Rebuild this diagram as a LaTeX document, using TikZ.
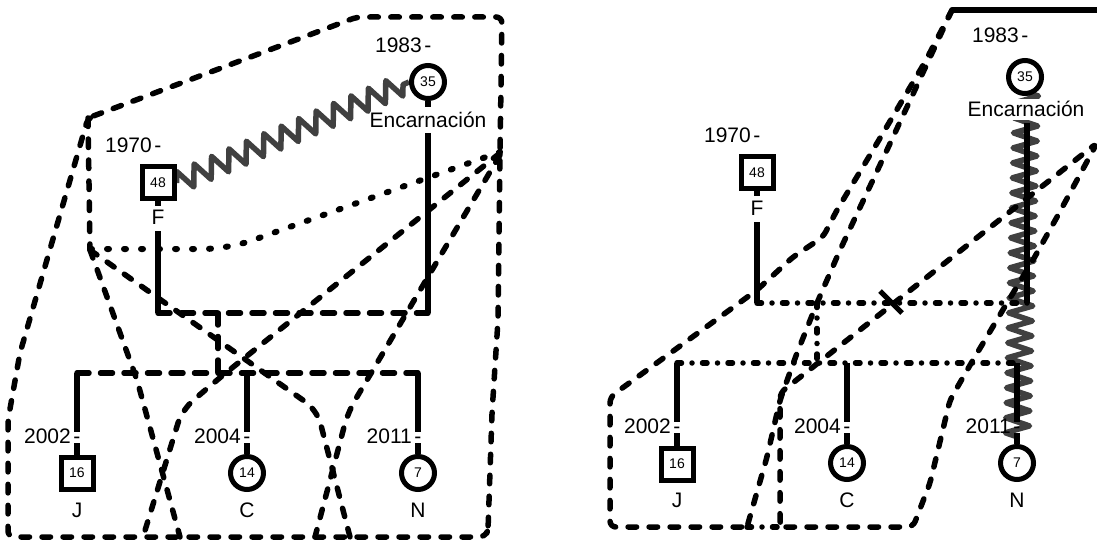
\documentclass[tikz,border=0pt]{standalone}
\usepackage{fontspec}
\setmainfont{Liberation Sans}
\usetikzlibrary{decorations.pathmorphing,calc}
\definecolor{zzgray}{RGB}{64,64,64}
\pgfdeclarelayer{zzlayer}
\pgfsetlayers{zzlayer,main}
\begin{document}
\begin{tikzpicture}[x=1pt,y=-1pt,
  every node/.style={font=\fontsize{21}{24}\selectfont},
  solidln/.style={line width=5.2pt},
  dshln/.style={line width=5.5pt, dash pattern=on 8.5pt off 12.5pt, line cap=round, line join=round},
  famdsh/.style={line width=5.5pt, dash pattern=on 12pt off 11.5pt, line cap=round},
  dotln/.style={line width=6pt, dash pattern=on 2pt off 15pt, line cap=round},
  ddln/.style={line width=5.5pt, dash pattern=on 4.5pt off 10.5pt on 0pt off 10.5pt, line cap=round},
  mbox/.style={draw, fill=white, line width=5pt, minimum size=32pt, inner sep=0pt, font=\fontsize{14}{16}\selectfont},
  fcirc/.style={draw, fill=white, circle, line width=5pt, minimum size=33pt, inner sep=0pt, font=\fontsize{14}{16}\selectfont},
  yr/.style={anchor=base east, inner sep=0pt},
  nm/.style={anchor=base, inner sep=0pt},
  zz/.style={draw=zzgray, line width=5.5pt, line join=round, decorate},
]
\useasboundingbox (0,0) rectangle (1097,540);

% ================= LEFT PANEL =================
% outline shapes
\draw[dshln, rounded corners=6pt] (88,118) -- (357,17) -- (502,17) -- (500,153) -- (498,320) -- (492,413) -- (488,530) -- (485,537) -- (8,537) -- (8,420) -- (20,353) -- (44,270) -- cycle;
\draw[dshln] (88,118) -- (90,249);
\draw[dotln, rounded corners=25pt] (90,249) -- (228,249) -- (500,152);
\draw[dshln, rounded corners=8pt] (90,250) -- (98,272) -- (137,380) -- (180,537);
\draw[dshln, rounded corners=14pt] (500,153) -- (217,380) -- (182,410) -- (143,537);
\draw[dshln, rounded corners=14pt] (90,250) -- (317,410) -- (350,537);
\draw[dshln, rounded corners=14pt] (500,155) -- (367,380) -- (348,412) -- (315,537);

% persons
\node[mbox] (F1) at (158,183) {48};
\node[fcirc] (E1) at (428,82) {35};
\node[yr] (F1y) at (161.5,153) {1970\kern2.5pt-};
\node[yr] (E1y) at (431.5,53) {1983\kern2.5pt-};
\node[nm] (F1n) at (158,225) {F};
\node[nm] (E1n) at (428,128) {Encarnación};
\coordinate (M1) at (218,313);
\coordinate (B1) at (218,373);
\node[mbox] (J1) at (77,473) {16};
\node[fcirc] (C1) at (247,473) {14};
\node[fcirc] (N1) at (418,473) {7};
\node[yr] (J1y) at (80.5,443) {2002\kern2.5pt-};
\node[yr] (C1y) at (250.5,443) {2004\kern2.5pt-};
\node[yr] (N1y) at (421.5,443) {2011\kern2.5pt-};
\node[nm] (J1n) at (77,517) {J};
\node[nm] (C1n) at (247,517) {C};
\node[nm] (N1n) at (418,517) {N};

\draw[solidln] (F1.south) -- ($(F1n.base)+(0,-19)$);
\draw[solidln] ($(F1n.base)+(0,6)$) -- (F1 |- M1);
\draw[solidln] (E1.south) -- ($(E1n.base)+(0,-21)$);
\draw[solidln] ($(E1n.base)+(0,5)$) -- (E1 |- M1);
\draw[famdsh] (F1 |- M1) -- (E1 |- M1);
\draw[famdsh] (M1) -- (B1);
\draw[famdsh] (J1 |- B1) -- (N1 |- B1);
\foreach \c in {J1,C1,N1}{
  \draw[solidln] (\c |- B1) -- ($(\c |- \c y.base)+(0,-11)$);
  \draw[solidln] (\c |- \c y.base) -- (\c.north);
}
\begin{pgfonlayer}{zzlayer}
\draw[zz, decoration={zigzag, segment length=19pt, amplitude=10.5pt}] (F1.east) -- (E1.west);
\end{pgfonlayer}

% ================= RIGHT PANEL =================
\draw[line width=5.5pt] (952,10) -- (1100,10);
\draw[dshln, rounded corners=6pt] (952,10) -- (925,62) -- (873,150) -- (837,210) -- (823,237) -- (793,257) -- (757,290) -- (610,397) -- (610,527) -- (747,527);
\draw[dshln, rounded corners=8pt] (952,10) -- (887,150) -- (840,250) -- (817,303) -- (797,353) -- (780,400) -- (767,457) -- (747,527);
\draw[ddln] (747,527) -- (780,527);
\draw[dshln, rounded corners=6pt] (780,527) -- (913,527) -- (930,483) -- (950,400) -- (973,360) -- (1007,303) -- (1033,260) -- (1057,217) -- (1097,143) -- (780,393) -- cycle;

\node[mbox] (F2) at (757,173) {48};
\node[fcirc] (E2) at (1025,77) {35};
\node[yr] (F2y) at (760.5,143) {1970\kern2.5pt-};
\node[yr] (E2y) at (1028.5,43) {1983\kern2.5pt-};
\node[nm] (F2n) at (757,215) {F};
\node[nm, fill=white, inner ysep=3pt] (E2n) at (1026,117) {Encarnación};
\coordinate (M2) at (817,303);
\coordinate (B2) at (817,363);
\node[mbox] (J2) at (677,464) {16};
\node[fcirc] (C2) at (847,463) {14};
\node[fcirc] (N2) at (1017,463) {7};
\node[yr] (J2y) at (680.5,433) {2002\kern2.5pt-};
\node[yr] (C2y) at (850.5,433) {2004\kern2.5pt-};
\node[yr] (N2y) at (1020.5,433) {2011\kern2.5pt-};
\node[nm] (J2n) at (677,507) {J};
\node[nm] (C2n) at (847,507) {C};
\node[nm] (N2n) at (1017,507) {N};

\draw[solidln] (F2.south) -- ($(F2n.base)+(0,-19)$);
\draw[solidln] ($(F2n.base)+(0,7)$) -- (F2 |- M2);
\draw[solidln] ($(E2n.base)+(1,6)$) -- ($(E2 |- M2)+(2,0)$);
\draw[ddln] (F2 |- M2) -- ($(E2 |- M2)+(2,0)$);
\draw[ddln] (M2) -- (B2);
\draw[ddln] (J2 |- B2) -- (N2 |- B2);
\coordinate (div) at (891,302);
\draw[solidln] ($(div)+(-11,-11)$) -- ($(div)+(11,11)$);
\foreach \c in {J2,C2,N2}{
  \draw[solidln] (\c |- B2) -- ($(\c |- \c y.base)+(0,-11)$);
  \draw[solidln] (\c |- \c y.base) -- (\c.north);
}
\begin{pgfonlayer}{zzlayer}
\draw[zz, decoration={zigzag, segment length=15pt, amplitude=12pt}] ($(E2.center)+(2,0)$) -- (N2.north);
\end{pgfonlayer}
\end{tikzpicture}
\end{document}
